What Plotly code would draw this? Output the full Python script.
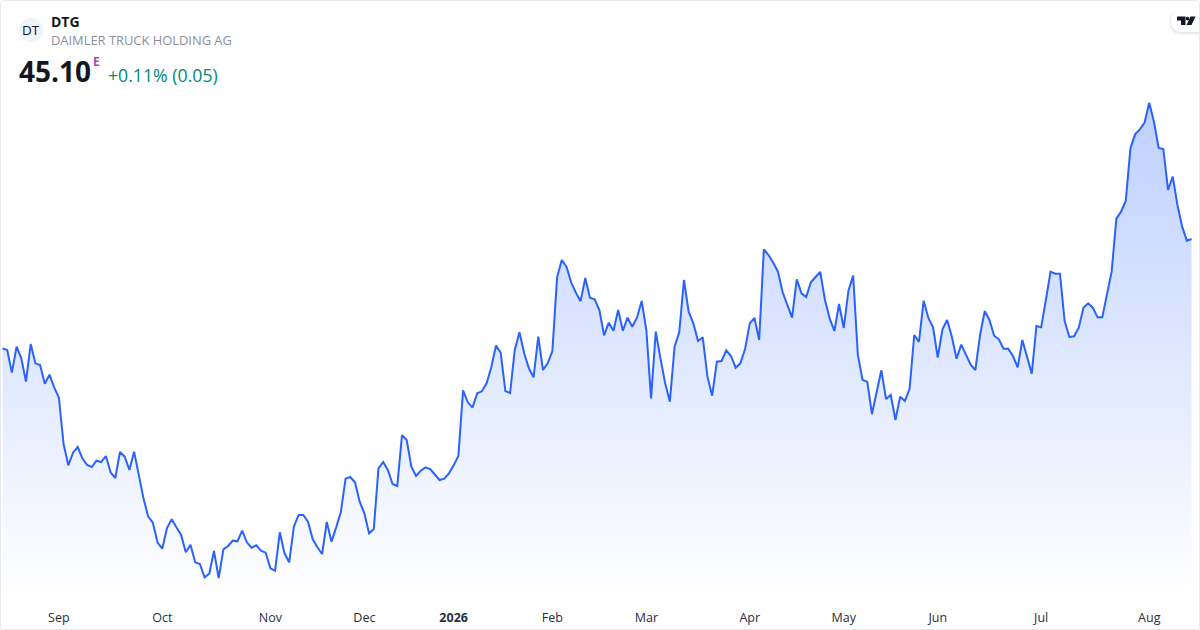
#! python3
"""DTG trailing year price chart, line with gradient area"""

import pandas as pd
import plotly.graph_objects as go

# Xetra closes, one per session
close = [
    41.82, 41.77, 41.09, 41.87, 41.52, 40.82, 41.95, 41.37, 41.32, 40.76, 41.03, 40.65, 40.34, 38.95, 38.31, 38.69,
    38.86, 38.52, 38.32, 38.26, 38.45, 38.41, 38.59, 38.10, 37.93, 38.71, 38.57, 38.17, 38.72, 38.02, 37.32, 36.77,
    36.59, 35.99, 35.81, 36.43, 36.69, 36.45, 36.23, 35.70, 35.93, 35.40, 35.35, 34.95, 35.06, 35.74, 34.93, 35.79,
    35.89, 36.05, 36.03, 36.35, 36.00, 35.84, 35.91, 35.75, 35.69, 35.22, 35.15, 36.30, 35.67, 35.40, 36.47, 36.82,
    36.82, 36.62, 36.10, 35.85, 35.65, 36.61, 36.02, 36.45, 36.92, 37.91, 37.96, 37.80, 37.22, 36.87, 36.27, 36.40,
    38.22, 38.41, 38.17, 37.75, 37.69, 39.21, 39.07, 38.27, 37.99, 38.15, 38.25, 38.20, 38.05, 37.87, 37.91, 38.07,
    38.31, 38.59, 40.56, 40.20, 40.04, 40.47, 40.53, 40.77, 41.25, 41.90, 41.69, 40.54, 40.48, 41.77, 42.30, 41.67,
    41.22, 40.95, 42.17, 41.17, 41.37, 41.74, 43.95, 44.47, 44.27, 43.80, 43.49, 43.23, 43.93, 43.34, 43.29, 42.97,
    42.21, 42.59, 42.35, 42.97, 42.35, 42.74, 42.47, 42.74, 43.24, 42.37, 40.32, 42.32, 41.52, 40.77, 40.22, 41.87,
    42.30, 43.87, 42.92, 42.57, 42.04, 42.15, 40.97, 40.40, 41.42, 41.44, 41.76, 41.59, 41.24, 41.37, 41.80, 42.57,
    42.73, 42.07, 44.79, 44.62, 44.39, 44.12, 43.50, 43.09, 42.74, 43.89, 43.47, 43.36, 43.80, 43.96, 44.11, 43.27,
    42.72, 42.34, 43.15, 42.43, 43.55, 44.00, 41.62, 40.87, 40.82, 39.85, 40.47, 41.16, 40.30, 40.42, 39.67, 40.37,
    40.24, 40.60, 42.22, 42.01, 43.25, 42.73, 42.45, 41.54, 42.39, 42.67, 42.17, 41.51, 41.93, 41.61, 41.33, 41.17,
    42.22, 42.94, 42.67, 42.20, 42.09, 41.81, 41.81, 41.59, 41.25, 42.07, 41.57, 41.06, 42.49, 42.45, 43.27, 44.12,
    44.06, 44.06, 42.64, 42.16, 42.18, 42.44, 43.04, 43.17, 43.04, 42.75, 42.75, 43.42, 44.12, 45.71, 45.92, 46.24,
    47.82, 48.24, 48.39, 48.59, 49.19, 48.62, 47.83, 47.80, 46.57, 46.97, 46.12, 45.47, 45.05, 45.10,
]

# exchange closed on these weekdays
holidays = ["2025-12-24", "2025-12-25", "2025-12-26", "2025-12-31", "2026-01-01",
            "2026-04-03", "2026-04-06", "2026-05-01"]
sessions = pd.bdate_range("2025-08-14", "2026-08-14", freq="C", holidays=holidays).strftime("%Y-%m-%d").tolist()

tick_dates = ["2025-09-01", "2025-10-01", "2025-11-03", "2025-12-01", "2026-01-02", "2026-02-02",
              "2026-03-02", "2026-04-01", "2026-05-04", "2026-06-01", "2026-07-01", "2026-08-03"]
tick_labels = ["Sep", "Oct", "Nov", "Dec", "<b>2026</b>", "Feb", "Mar", "Apr", "May", "Jun", "Jul", "Aug"]

ticker = "DTG"
company = "DAIMLER TRUCK HOLDING AG"
last_price = "45.10"
change_text = "+0.11% (0.05)"

W, H = 1200, 630
PLOT_H = 600
FONT = "Open Sans"


def py(y):
    # pixel row to paper fraction
    return 1 - y / PLOT_H


def px(x):
    return x / W


def label(x, y, text, size, color, anchor="left"):
    return dict(
        x=px(x), y=py(y), xref="paper", yref="paper", text=text, showarrow=False,
        xanchor=anchor, yanchor="middle", xshift=-1, font=dict(family=FONT, size=size, color=color),
    )


fig = go.Figure()
fig.add_trace(
    go.Scatter(
        x=sessions,
        y=close,
        mode="lines",
        line=dict(color="#2962ff", width=2, shape="linear"),
        fill="tozeroy",
        fillgradient=dict(
            type="vertical",
            start=34.27,
            stop=49.19,
            colorscale=[[0, "rgba(41,98,255,0)"], [1, "rgba(41,98,255,0.3)"]],
        ),
        hoverinfo="skip",
        showlegend=False,
    )
)

shapes = [
    # icon circle
    dict(type="circle", xref="paper", yref="paper", x0=px(19), x1=px(43), y0=py(42), y1=py(18),
         fillcolor="#f0f3fa", line=dict(width=0)),
    # logo pill, soft shadow under it
    dict(type="path", xref="paper", yref="paper",
         path=f"M {px(1200)} {py(10)} L {px(1182)} {py(10)} Q {px(1169.5)} {py(10)} {px(1169.5)} {py(22)} "
              f"Q {px(1169.5)} {py(35)} {px(1182)} {py(35)} L {px(1200)} {py(35)} Z",
         fillcolor="rgba(19,23,34,0.05)", line=dict(width=0)),
    dict(type="path", xref="paper", yref="paper",
         path=f"M {px(1200)} {py(10)} L {px(1182)} {py(10)} Q {px(1170.5)} {py(10)} {px(1170.5)} {py(21.5)} "
              f"Q {px(1170.5)} {py(33.5)} {px(1182)} {py(33.5)} L {px(1200)} {py(33.5)} Z",
         fillcolor="rgba(19,23,34,0.05)", line=dict(width=0)),
    dict(type="path", xref="paper", yref="paper",
         path=f"M {px(1200)} {py(10)} L {px(1182)} {py(10)} Q {px(1171)} {py(10)} {px(1171)} {py(21)} "
              f"Q {px(1171)} {py(32)} {px(1182)} {py(32)} L {px(1200)} {py(32)} Z",
         fillcolor="white", line=dict(width=0)),
    # logo glyph
    dict(type="path", xref="paper", yref="paper",
         path=f"M {px(1177)} {py(16.5)} L {px(1185.5)} {py(16.5)} L {px(1185.5)} {py(25)} L {px(1181)} {py(25)} "
              f"L {px(1181)} {py(20.5)} L {px(1177)} {py(20.5)} Z",
         fillcolor="#131722", line=dict(width=0)),
    dict(type="circle", xref="paper", yref="paper", x0=px(1185.7), x1=px(1189.3), y0=py(20.5), y1=py(16.7),
         fillcolor="#131722", line=dict(width=0)),
    dict(type="path", xref="paper", yref="paper",
         path=f"M {px(1190.5)} {py(16.5)} L {px(1195.5)} {py(16.5)} L {px(1191.5)} {py(25)} L {px(1186.5)} {py(25)} Z",
         fillcolor="#131722", line=dict(width=0)),
    # card border, rounded
    dict(type="path", xref="paper", yref="paper",
         path=f"M {px(3.5)} {py(0.5)} L {px(1196.5)} {py(0.5)} Q {px(1199.5)} {py(0.5)} {px(1199.5)} {py(3.5)} "
              f"L {px(1199.5)} {py(626.5)} Q {px(1199.5)} {py(629.5)} {px(1196.5)} {py(629.5)} "
              f"L {px(3.5)} {py(629.5)} Q {px(0.5)} {py(629.5)} {px(0.5)} {py(626.5)} "
              f"L {px(0.5)} {py(3.5)} Q {px(0.5)} {py(0.5)} {px(3.5)} {py(0.5)} Z",
         line=dict(color="#e6e8ee", width=1), layer="above"),
]

annotations = [
    label(32, 30, "DT", 13.5, "#131722", "center"),
    label(50, 21, f"<b>{ticker}</b>", 14, "#131722"),
    label(50, 40, company, 12.9, "#8a8e99"),
    label(18, 71, f"<b>{last_price}</b>", 28, "#131722"),
    label(92, 62, "<b>E</b>", 12, "#ab47bc"),
    label(107, 75, change_text, 17.7, "#00897b"),
]

fig.update_layout(
    width=W,
    height=H,
    margin=dict(l=0, r=0, t=0, b=H - PLOT_H),
    paper_bgcolor="white",
    plot_bgcolor="white",
    shapes=shapes,
    annotations=annotations,
    xaxis=dict(
        type="category",
        range=[-0.53, 254.8],
        tickmode="array",
        tickvals=tick_dates,
        ticktext=tick_labels,
        showgrid=False,
        zeroline=False,
        showline=False,
        ticks="",
        ticklabelstandoff=8,
        tickfont=dict(family=FONT, size=12.5, color="#2a2e39"),
    ),
    yaxis=dict(range=[34.27, 52.27], visible=False),
)

# browser default body margin would push the chart 8px off the page
fig.write_html("out.html", config=dict(displayModeBar=False), post_script="document.body.style.margin='0';")
